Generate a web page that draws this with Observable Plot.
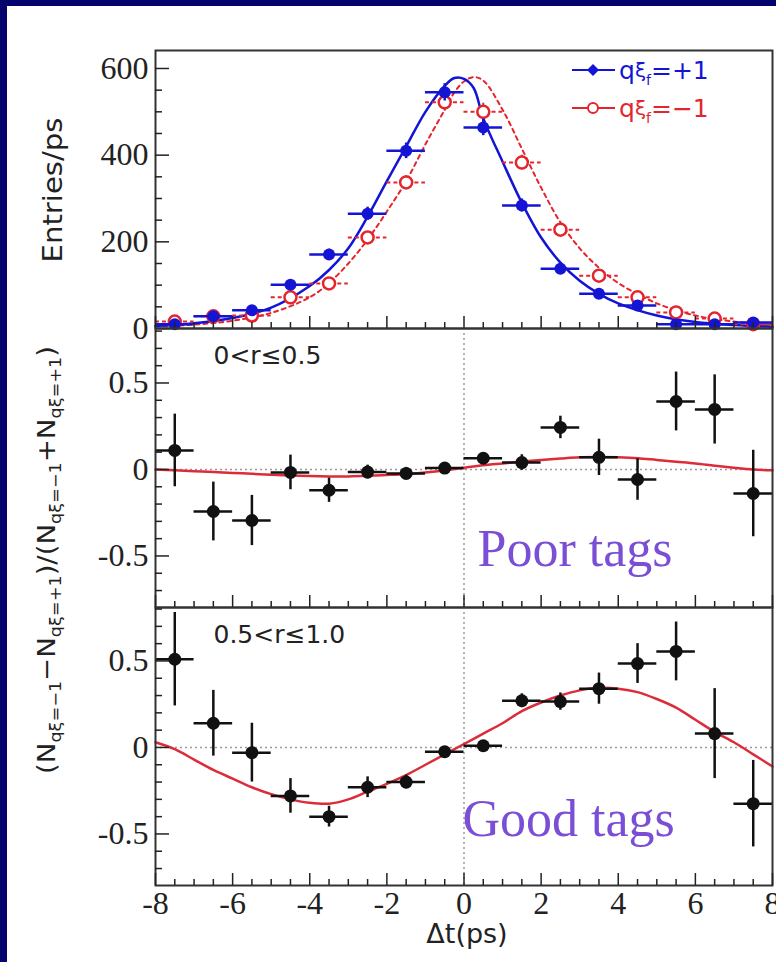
<!DOCTYPE html>
<html><head><meta charset="utf-8">
<script src="https://cdn.jsdelivr.net/npm/d3@7"></script>
<script src="https://cdn.jsdelivr.net/npm/@observablehq/plot@0.6"></script>
<style>
html,body{margin:0;padding:0;background:#04046e;}
#wrap{position:relative;width:776px;height:962px;background:#04046e;overflow:hidden;}
#white{position:absolute;left:7px;top:6px;width:769px;height:956px;background:#fff;}
#wrap svg{position:absolute;left:0;}
</style></head><body>
<div id="wrap"><div id="white"></div></div>
<script>
// ---- data ----
const bins = [-7.5,-6.5,-5.5,-4.5,-3.5,-2.5,-1.5,-0.5,0.5,1.5,2.5,3.5,4.5,5.5,6.5,7.5];
const entriesPlus  = [10,28,42,101,171,265,410,545,464,284,138,80,53,10,10,14];
const errPlus      = [4,5,6,9,12,15,18,20,19,15,11,8,7,4,4,4];
const entriesMinus = [16,28,30,72,104,210,337,522,500,383,228,122,72,37,23,10];
const errMinus     = [4,5,5,8,9,13,16,20,20,17,14,10,8,6,5,3];

const tTop     = [-8,-7,-6,-5,-4,-3.5,-3,-2.5,-2,-1.5,-1,-0.5,-0.25,0,0.25,0.5,1,1.5,2,2.5,3,3.5,4,5,6,7,8];
const fitPlus  = [6,12,24,48,98,135,185,258,340,420,500,560,578,576,555,485,385,290,210,152,110,80,58,30,15,8,4];
const fitMinus = [5,9,18,36,72,105,150,205,270,340,425,505,545,570,580,572,505,415,325,245,185,140,105,58,30,16,9];

const asymPoor = [0.11,-0.243,-0.295,-0.017,-0.12,-0.015,-0.023,0.008,0.065,0.04,0.243,0.07,-0.058,0.393,0.347,-0.139];
const errPoor  = [0.21,0.17,0.145,0.1,0.07,0.04,0.035,0.03,0.03,0.045,0.065,0.105,0.12,0.17,0.2,0.25];
const asymGood = [0.51,0.14,-0.03,-0.28,-0.40,-0.23,-0.2,-0.025,0.01,0.27,0.265,0.34,0.485,0.555,0.08,-0.325];
const errGood  = [0.27,0.19,0.17,0.1,0.06,0.06,0.04,0.03,0.03,0.04,0.05,0.09,0.115,0.17,0.26,0.25];

const tAsym   = [-8,-7.5,-7,-6.5,-6,-5.5,-5,-4.5,-4,-3.5,-3,-2.5,-2,-1.5,-1,-0.5,0,0.5,1,1.5,2,2.5,3,3.5,4,4.5,5,5.5,6,6.5,7,7.5,8];
const fitPoor = [0,-0.005,-0.01,-0.015,-0.02,-0.025,-0.03,-0.035,-0.038,-0.04,-0.04,-0.037,-0.032,-0.026,-0.017,-0.006,0.01,0.025,0.035,0.045,0.055,0.063,0.07,0.072,0.07,0.065,0.055,0.045,0.035,0.022,0.01,0,-0.005];
const fitGood = [0.03,-0.01,-0.07,-0.13,-0.18,-0.23,-0.27,-0.30,-0.32,-0.325,-0.30,-0.255,-0.21,-0.16,-0.10,-0.04,0.02,0.08,0.14,0.21,0.26,0.30,0.33,0.345,0.34,0.32,0.28,0.23,0.16,0.09,0.03,-0.04,-0.11];

const xMajor = [-8,-6,-4,-2,0,2,4,6,8];
const xMinor = [-7.5,-7,-6.5,-5.5,-5,-4.5,-3.5,-3,-2.5,-1.5,-1,-0.5,0.5,1,1.5,2.5,3,3.5,4.5,5,5.5,6.5,7,7.5];
const yTopMajor = [0,200,400,600];
const yTopMinor = [50,100,150,250,300,350,450,500,550];
const yAsymMajor = [-0.5,0,0.5];
const yAsymMinor = [-0.7,-0.6,-0.4,-0.3,-0.2,-0.1,0.1,0.2,0.3,0.4,0.6,0.7,0.8];
const labels = {poor: "0<r≤0.5", good: "0.5<r≤1.0", poorTag: "Poor tags", goodTag: "Good tags"};

// ---- derived tables ----
const topPts = bins.map((t,i)=>({t, plus: entriesPlus[i], eP: errPlus[i], minus: entriesMinus[i], eM: errMinus[i]}));
const topCurve = tTop.map((t,i)=>({t, plus: fitPlus[i], minus: fitMinus[i]}));
const poorPts = bins.map((t,i)=>({t, v: asymPoor[i], e: errPoor[i]}));
const goodPts = bins.map((t,i)=>({t, v: asymGood[i], e: errGood[i]}));
const asymCurve = tAsym.map((t,i)=>({t, poor: fitPoor[i], good: fitGood[i]}));

const BLUE = "#1414d4", RED = "#e3262e", CURVE = "#dc2c3a", PURPLE = "#7a4fd6", INK = "#222";
const SERIF = "'Liberation Serif','Times New Roman',serif";
const SANS = "'DejaVu Sans',sans-serif";
const baseStyle = {background: "transparent", overflow: "visible", fontFamily: SERIF, fontSize: "32px", color: INK};

function tickMarks(yMaj, yMin, fmt) {
  return [
    Plot.axisY(yMaj, {tickSize: -14, tickFormat: () => "", strokeWidth: 1.5}),
    Plot.axisY(yMin, {tickSize: -7, tickFormat: () => "", strokeWidth: 1.5}),
    Plot.axisY(yMaj, {tickSize: 0, tickPadding: 7, tickFormat: fmt}),
    Plot.axisX(xMajor, {tickSize: -12, tickFormat: () => "", strokeWidth: 1.5}),
    Plot.axisX(xMinor, {tickSize: -6, tickFormat: () => "", strokeWidth: 1.5})
  ];
}

const wrap = document.getElementById("wrap");

// ---- top panel ----
const p1 = Plot.plot({
  width: 776, height: 328, marginLeft: 155, marginRight: 4, marginTop: 50, marginBottom: 0,
  x: {domain: [-8, 8], label: null},
  y: {domain: [0, 641.5], label: null},
  style: baseStyle,
  marks: [
    Plot.line(topCurve, {x: "t", y: "minus", stroke: RED, strokeWidth: 2, strokeDasharray: "4,4", curve: "catmull-rom"}),
    Plot.line(topCurve, {x: "t", y: "plus", stroke: BLUE, strokeWidth: 2.5, curve: "catmull-rom"}),
    Plot.ruleY(topPts, {x1: d => d.t - 0.5, x2: d => d.t + 0.5, y: "minus", stroke: RED, strokeWidth: 2, strokeDasharray: "4,3"}),
    Plot.ruleX(topPts, {x: "t", y1: d => d.minus - d.eM, y2: d => d.minus + d.eM, stroke: RED, strokeWidth: 2}),
    Plot.dot(topPts, {x: "t", y: "minus", r: 6, stroke: RED, strokeWidth: 2.5, fill: "white"}),
    Plot.ruleY(topPts, {x1: d => d.t - 0.5, x2: d => d.t + 0.5, y: "plus", stroke: BLUE, strokeWidth: 2.5}),
    Plot.ruleX(topPts, {x: "t", y1: d => d.plus - d.eP, y2: d => d.plus + d.eP, stroke: BLUE, strokeWidth: 2.5}),
    Plot.dot(topPts, {x: "t", y: "plus", r: 6, fill: BLUE}),
    Plot.frame({stroke: "#333", strokeWidth: 2}),
    ...tickMarks(yTopMajor, yTopMinor, d => String(d))
  ]
});
p1.style.top = "0px";
wrap.appendChild(p1);

function asymPanel(pts, key, top, height, mBottom, yDomain, label, tag, tagDx, tagDy, extra) {
  const p = Plot.plot({
    width: 776, height, marginLeft: 155, marginRight: 4, marginTop: 0, marginBottom: mBottom,
    x: {domain: [-8, 8], label: null},
    y: {domain: yDomain, label: null},
    style: baseStyle,
    marks: [
      Plot.ruleY([0], {stroke: "#9a9a9a", strokeWidth: 1.5, strokeDasharray: "2,3"}),
      Plot.ruleX([0], {stroke: "#9a9a9a", strokeWidth: 1.5, strokeDasharray: "2,3"}),
      Plot.line(asymCurve, {x: "t", y: key, stroke: CURVE, strokeWidth: 2.5, curve: "catmull-rom"}),
      Plot.ruleY(pts, {x1: d => d.t - 0.5, x2: d => d.t + 0.5, y: "v", stroke: "#111", strokeWidth: 2.5}),
      Plot.ruleX(pts, {x: "t", y1: d => d.v - d.e, y2: d => d.v + d.e, stroke: "#111", strokeWidth: 2.5}),
      Plot.dot(pts, {x: "t", y: "v", r: 6.5, fill: "#111"}),
      Plot.text([label], {text: d => d, frameAnchor: "top-left", dx: 58, dy: 35, textAnchor: "start", lineAnchor: "bottom", fontSize: 25, fontFamily: SANS, fill: INK}),
      Plot.text([tag], {text: d => d, frameAnchor: "top-left", dx: tagDx, dy: tagDy, textAnchor: "start", lineAnchor: "bottom", fontSize: 52, fontFamily: SERIF, fill: PURPLE}),
      Plot.frame({stroke: "#333", strokeWidth: 2}),
      ...tickMarks(yAsymMajor, yAsymMinor, d => String(d)),
      ...extra
    ]
  });
  p.style.top = top + "px";
  wrap.appendChild(p);
  return p;
}

asymPanel(poorPts, "poor", 328, 279, 0, [-0.798, 0.815], labels.poor, labels.poorTag, 322, 237, []);
asymPanel(goodPts, "good", 607, 355, 77, [-0.798, 0.809], labels.good, labels.goodTag, 307, 228,
  [Plot.axisX(xMajor, {tickSize: 0, tickPadding: 6, tickFormat: d => String(d)})]);

// ---- overlay: axis titles and legend ----
const ov = d3.select(wrap).append("svg").attr("width", 776).attr("height", 962)
  .style("top", "0px").style("overflow", "visible").style("pointer-events", "none");

ov.append("text").attr("transform", "translate(62,190) rotate(-90)")
  .attr("text-anchor", "middle").attr("font-family", SANS).attr("font-size", 26).attr("fill", INK)
  .attr("textLength", 145).attr("lengthAdjust", "spacingAndGlyphs").text("Entries/ps");

ov.append("text").attr("x", 467).attr("y", 943).attr("text-anchor", "middle")
  .attr("font-family", SANS).attr("font-size", 27).attr("fill", INK).text("Δt(ps)");

const yl = ov.append("text").attr("transform", "translate(55,560) rotate(-90)")
  .attr("text-anchor", "middle").attr("font-family", SANS).attr("font-size", 25).attr("fill", INK)
  .attr("textLength", 428).attr("lengthAdjust", "spacingAndGlyphs");
const parts = [["(N", 0], ["qξ=−1", 1], ["−N", 0], ["qξ=+1", 1], [")/(N", 0], ["qξ=−1", 1], ["+N", 0], ["qξ=+1", 1], [")", 0]];
let prevSub = 0;
parts.forEach(([s, sub]) => {
  const t = yl.append("tspan").text(s);
  if (sub) t.attr("font-size", 16);
  const dy = (sub ? 6 : 0) - (prevSub ? 6 : 0);
  if (dy) t.attr("dy", dy);
  prevSub = sub;
});

// legend
const leg = [{c: BLUE, y: 70, filled: true, s: "=+1"}, {c: RED, y: 108, filled: false, s: "=−1"}];
leg.forEach(L => {
  ov.append("line").attr("x1", 572).attr("x2", 615).attr("y1", L.y).attr("y2", L.y).attr("stroke", L.c).attr("stroke-width", 2);
  if (L.filled) ov.append("path").attr("d", `M593,${L.y-6}L599,${L.y}L593,${L.y+6}L587,${L.y}Z`).attr("fill", L.c);
  else ov.append("circle").attr("cx", 593).attr("cy", L.y).attr("r", 5).attr("fill", "white").attr("stroke", L.c).attr("stroke-width", 2);
  const t = ov.append("text").attr("x", 619).attr("y", L.y + 9).attr("font-family", SANS).attr("font-size", 25).attr("fill", L.c);
  t.append("tspan").text("q");
  t.append("tspan").text("ξ").attr("font-size", 20).attr("dy", -2);
  t.append("tspan").text("f").attr("font-size", 14).attr("dy", 8);
  t.append("tspan").text(L.s).attr("dy", -6);
});
</script>
</body></html>
